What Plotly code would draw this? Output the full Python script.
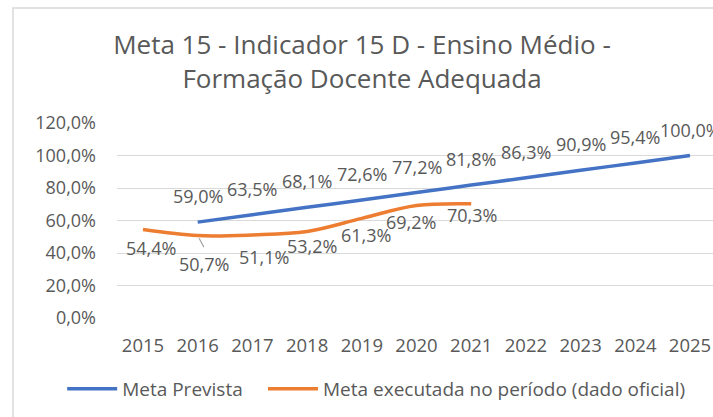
import plotly.graph_objects as go

years = ["2015", "2016", "2017", "2018", "2019", "2020", "2021", "2022", "2023", "2024", "2025"]
prevista_years = ["2016", "2017", "2018", "2019", "2020", "2021", "2022", "2023", "2024", "2025"]
prevista = [0.590, 0.635, 0.681, 0.726, 0.772, 0.818, 0.863, 0.909, 0.954, 1.000]
executada_years = ["2015", "2016", "2017", "2018", "2019", "2020", "2021"]
executada = [0.544, 0.507, 0.511, 0.532, 0.613, 0.692, 0.703]
ytick_vals = [0, 0.2, 0.4, 0.6, 0.8, 1.0, 1.2]

# label placement offsets (pixels), styling only
prev_shift = (0, 26)
exec_xshift = [8, 6, 12, 5, 4, -6, 1]
exec_yshift = [-18, -28, -22, -14, -17, -16, -11]

gray = "#595959"
font_family = "Open Sans, sans-serif"
BLUE = "#4472C4"
ORANGE = "#ED7D31"

def pct(v):
    return f"{v * 100:.1f}%".replace(".", ",")

fig = go.Figure()
fig.add_trace(go.Scatter(
    x=prevista_years, y=prevista, mode="lines", name="Meta Prevista",
    line=dict(color=BLUE, width=3.5, shape="spline"), legend="legend",
))
fig.add_trace(go.Scatter(
    x=executada_years, y=executada, mode="lines",
    name="Meta executada no período (dado oficial)",
    line=dict(color=ORANGE, width=3.5, shape="spline"), legend="legend2",
))

annotations = []
for xv, yv in zip(prevista_years, prevista):
    annotations.append(dict(
        x=years.index(xv), y=yv, xref="x", yref="y", text=pct(yv), showarrow=False,
        xshift=prev_shift[0], yshift=prev_shift[1],
        font=dict(size=18, color=gray, family=font_family),
    ))
for i, (xv, yv) in enumerate(zip(executada_years, executada)):
    annotations.append(dict(
        x=years.index(xv), y=yv, xref="x", yref="y", text=pct(yv), showarrow=False,
        xshift=exec_xshift[i], yshift=exec_yshift[i],
        font=dict(size=18, color=gray, family=font_family),
    ))
# leader line for the 2016 executed label
annotations.append(dict(
    x=years.index(executada_years[1]), y=executada[1], xref="x", yref="y", text="",
    showarrow=True, arrowhead=0, arrowwidth=1.2, arrowcolor="#A6A6A6",
    ax=7, ay=13, standoff=3,
))

legend_style = dict(
    orientation="h", xanchor="left", y=-0.364, yanchor="middle",
    font=dict(size=19, color=gray, family=font_family),
    itemwidth=50, bgcolor="rgba(0,0,0,0)",
)

fig.update_layout(
    width=713, height=417,
    separators=",.",
    paper_bgcolor="white", plot_bgcolor="white",
    margin=dict(l=117, r=0, t=123, b=99),
    title=dict(
        text="Meta 15 - Indicador 15 D - Ensino Médio -<br>Formação Docente Adequada",
        xref="container", x=(362 / 713), xanchor="center", y=0.87, yanchor="middle",
        font=dict(size=26, color=gray, family=font_family),
    ),
    xaxis=dict(
        type="category", categoryorder="array", categoryarray=years,
        range=[-0.475, 10.42], showgrid=False, showline=False, ticks="",
        ticklabelstandoff=14,
        tickfont=dict(size=18.5, color=gray, family=font_family),
    ),
    yaxis=dict(
        range=[0, 1.2], tickvals=ytick_vals, tickformat=".1%",
        showgrid=True, gridcolor="#D9D9D9", gridwidth=1.2, zeroline=False,
        ticklabelstandoff=20,
        tickfont=dict(size=18, color=gray, family=font_family),
    ),
    showlegend=True,
    legend=dict(x=-0.092, **legend_style),
    legend2=dict(x=0.245, **legend_style),
    annotations=annotations,
    shapes=[dict(type="rect", xref="paper", yref="paper", x0=-0.1745, x1=1.005, y0=-0.53, y1=1.59,
                 line=dict(color="#D9D9D9", width=1.5))],
)

fig.write_html("out.html", config={"displayModeBar": False},
               post_script="document.body.style.margin='0';document.body.style.padding='0';")
